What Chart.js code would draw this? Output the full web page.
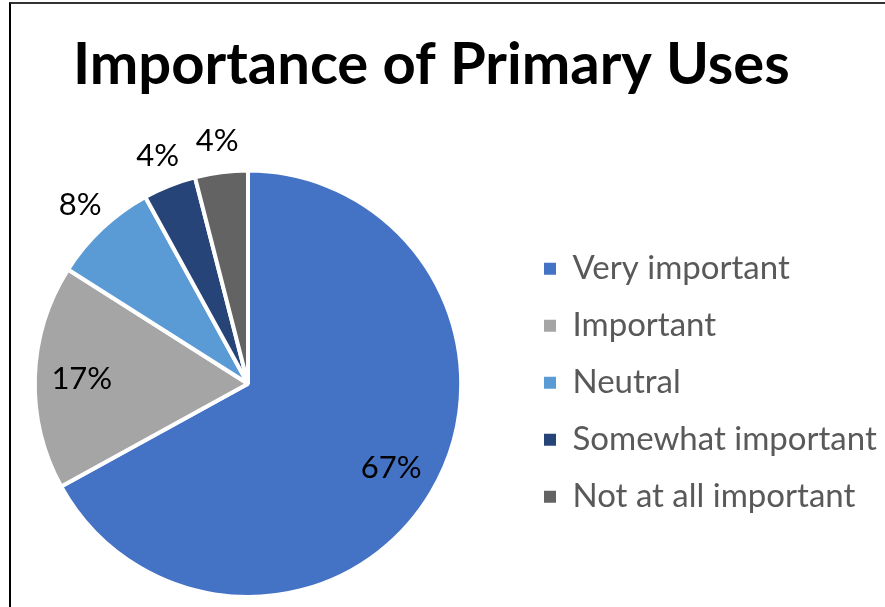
<!DOCTYPE html>
<html>
<head>
<meta charset="utf-8">
<script src="https://cdn.jsdelivr.net/npm/chart.js@4.4.1/dist/chart.umd.min.js"></script>
<style>
  html, body { margin: 0; padding: 0; background: #fff; overflow: hidden; }
  #wrap { position: relative; width: 885px; height: 607px; overflow: hidden; }
  #frame {
    position: absolute; left: 9px; top: 2px; width: 1000px; height: 800px;
    border-left: 2px solid #000; border-top: 2px solid #333;
  }
  #usesChart { position: absolute; left: -24px; top: 0; }
</style>
</head>
<body>
<div id="wrap">
  <div id="frame"></div>
  <canvas id="usesChart" width="924" height="607"></canvas>
</div>
<script>
var categories = ['Very important', 'Important', 'Neutral', 'Somewhat important', 'Not at all important'];
var shares = [67, 17, 8, 4, 4];
var sliceColors = ['#4472C4', '#A5A5A5', '#5B9BD5', '#264478', '#636363'];

var legendFont = { family: 'Lato', size: 33 };
var legendPad = 24;
var legendBox = 12;

// width of the longest legend entry, used to place the legend column
function longestLabel() {
    var ctx = document.createElement('canvas').getContext('2d');
    ctx.font = legendFont.size + 'px ' + legendFont.family;
    var w = 0;
    categories.forEach(function(c) { w = Math.max(w, ctx.measureText(c).width); });
    return w;
}

// percentage labels: big slices inside, small ones just outside the rim
var sliceLabels = {
    id: 'sliceLabels',
    afterDatasetsDraw: function(chart) {
        var ctx = chart.ctx;
        var meta = chart.getDatasetMeta(0);
        var data = chart.data.datasets[0].data;
        var total = data.reduce(function(a, b) { return a + b; }, 0);
        ctx.save();
        ctx.font = '31px Lato';
        ctx.fillStyle = '#000';
        ctx.textAlign = 'center';
        ctx.textBaseline = 'middle';
        meta.data.forEach(function(arc, i) {
            var p = arc.getProps(['x', 'y', 'startAngle', 'endAngle', 'outerRadius'], true);
            var pct = Math.round(data[i] / total * 100);
            var mid = (p.startAngle + p.endAngle) / 2;
            var r = pct >= 10 ? p.outerRadius * 0.78 : p.outerRadius + 32;
            ctx.fillText(pct + '%', p.x + Math.cos(mid) * r, p.y + Math.sin(mid) * r);
        });
        ctx.restore();
    }
};

document.fonts.load('33px Lato').then(function() { return document.fonts.load('bold 58px Lato'); }).then(function() {
    var textW = longestLabel();
    // legend column starts 520px from the page edge (canvas sits 24px left of it)
    var legendLeft = 544;
    var padRight = 924 - legendLeft - (legendPad + legendBox + legendFont.size / 2 + textW + 10);

    new Chart(document.getElementById('usesChart'), {
        type: 'pie',
        data: {
            labels: categories,
            datasets: [{
                data: shares,
                backgroundColor: sliceColors,
                borderColor: '#fff',
                borderWidth: 4
            }]
        },
        options: {
            responsive: false,
            animation: false,
            layout: { padding: { left: 0, right: padRight, top: 0, bottom: 8 } },
            plugins: {
                title: {
                    display: true,
                    text: 'Importance of Primary Uses',
                    color: '#000',
                    font: { family: 'Lato', size: 58, weight: 'bold', lineHeight: 1.2 },
                    padding: { top: 30, bottom: 69 }
                },
                legend: {
                    position: 'right',
                    // empty title block pushes the entries down to the middle of the pie
                    title: { display: true, text: '', font: { size: 13 }, padding: { top: 151, bottom: 0 } },
                    labels: {
                        color: '#595959',
                        font: legendFont,
                        boxWidth: legendBox,
                        boxHeight: legendBox,
                        padding: legendPad,
                        generateLabels: function(chart) {
                            var items = Chart.overrides.pie.plugins.legend.labels.generateLabels(chart);
                            items.forEach(function(it) { it.lineWidth = 0; });
                            return items;
                        }
                    }
                },
                tooltip: { enabled: false }
            }
        },
        plugins: [sliceLabels]
    });
});
</script>
</body>
</html>
